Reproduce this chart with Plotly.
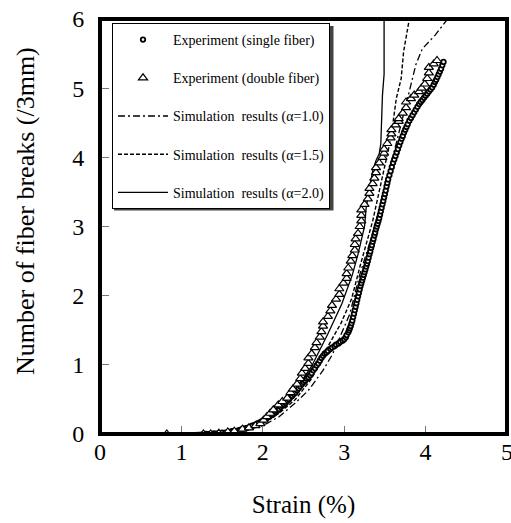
import plotly.graph_objects as go

# ---------------- data ----------------
single_fiber = [
    (1.30, 0.00), (1.35, 0.00), (1.40, 0.01), (1.45, 0.01), (1.50, 0.02), (1.54, 0.02),
    (1.58, 0.03), (1.62, 0.04), (1.65, 0.04), (1.69, 0.05), (1.72, 0.06), (1.75, 0.07),
    (1.78, 0.08), (1.81, 0.09), (1.84, 0.10), (1.87, 0.12), (1.90, 0.13), (1.93, 0.15),
    (1.95, 0.16), (1.98, 0.18), (2.00, 0.19), (2.02, 0.21), (2.04, 0.22), (2.06, 0.24),
    (2.08, 0.25), (2.10, 0.27), (2.12, 0.28), (2.14, 0.30), (2.16, 0.32), (2.18, 0.34),
    (2.20, 0.36), (2.22, 0.39), (2.24, 0.41), (2.26, 0.43), (2.28, 0.45), (2.30, 0.48),
    (2.32, 0.50), (2.34, 0.53), (2.36, 0.55), (2.38, 0.58), (2.40, 0.60), (2.42, 0.63),
    (2.44, 0.66), (2.46, 0.69), (2.48, 0.72), (2.50, 0.75), (2.52, 0.77), (2.54, 0.80),
    (2.56, 0.82), (2.58, 0.85), (2.60, 0.88), (2.62, 0.92), (2.64, 0.95), (2.66, 0.99),
    (2.68, 1.02), (2.70, 1.06), (2.72, 1.10), (2.74, 1.13), (2.76, 1.16), (2.78, 1.18),
    (2.80, 1.20), (2.83, 1.23), (2.85, 1.25), (2.88, 1.27), (2.90, 1.29), (2.93, 1.31),
    (2.95, 1.33), (2.98, 1.35), (3.00, 1.37), (3.02, 1.40), (3.03, 1.43), (3.05, 1.47),
    (3.06, 1.50), (3.07, 1.53), (3.08, 1.56), (3.09, 1.60), (3.10, 1.64), (3.11, 1.69),
    (3.12, 1.74), (3.13, 1.79), (3.14, 1.84), (3.15, 1.89), (3.16, 1.94), (3.17, 1.99),
    (3.18, 2.04), (3.19, 2.09), (3.20, 2.14), (3.21, 2.18), (3.22, 2.22), (3.23, 2.26),
    (3.24, 2.30), (3.25, 2.34), (3.26, 2.38), (3.27, 2.42), (3.28, 2.46), (3.29, 2.50),
    (3.30, 2.55), (3.31, 2.60), (3.32, 2.64), (3.33, 2.69), (3.34, 2.73), (3.35, 2.78),
    (3.36, 2.82), (3.37, 2.87), (3.38, 2.91), (3.39, 2.96), (3.40, 3.00), (3.41, 3.04),
    (3.42, 3.08), (3.43, 3.12), (3.44, 3.17), (3.45, 3.22), (3.46, 3.27), (3.47, 3.32),
    (3.48, 3.37), (3.49, 3.42), (3.50, 3.47), (3.51, 3.52), (3.52, 3.58), (3.53, 3.63),
    (3.54, 3.68), (3.555, 3.74), (3.57, 3.80), (3.585, 3.86), (3.60, 3.92), (3.615, 3.97),
    (3.63, 4.02), (3.645, 4.07), (3.66, 4.12), (3.675, 4.17), (3.69, 4.22), (3.705, 4.27),
    (3.72, 4.31), (3.735, 4.36), (3.75, 4.40), (3.765, 4.44), (3.78, 4.48), (3.80, 4.53),
    (3.82, 4.57), (3.84, 4.61), (3.86, 4.65), (3.88, 4.69), (3.90, 4.73), (3.92, 4.77),
    (3.94, 4.80), (3.96, 4.83), (3.98, 4.86), (4.00, 4.89), (4.02, 4.92), (4.04, 4.95),
    (4.06, 4.98), (4.08, 5.01), (4.10, 5.05), (4.115, 5.09), (4.13, 5.12), (4.145, 5.16),
    (4.16, 5.20), (4.175, 5.24), (4.19, 5.28), (4.205, 5.33), (4.22, 5.38),
]

double_fiber = [
    (0.82, 0.00), (1.27, 0.00), (1.36, 0.00), (1.46, 0.01), (1.57, 0.03), (1.65, 0.04),
    (1.75, 0.07), (1.83, 0.09), (1.91, 0.12), (1.97, 0.15), (2.01, 0.20), (2.05, 0.25),
    (2.09, 0.30), (2.13, 0.35), (2.19, 0.42), (2.24, 0.47), (2.30, 0.52), (2.34, 0.60),
    (2.37, 0.65), (2.42, 0.72), (2.46, 0.80), (2.48, 0.88), (2.52, 0.95), (2.56, 1.02),
    (2.56, 1.10), (2.60, 1.16), (2.64, 1.25), (2.66, 1.32), (2.70, 1.40), (2.72, 1.48),
    (2.74, 1.56), (2.74, 1.62), (2.80, 1.70), (2.83, 1.78), (2.85, 1.86), (2.90, 1.95),
    (2.94, 2.02), (2.94, 2.10), (2.99, 2.18), (3.03, 2.25), (3.03, 2.32), (3.05, 2.40),
    (3.08, 2.50), (3.10, 2.58), (3.13, 2.66), (3.13, 2.74), (3.14, 2.82), (3.17, 2.90),
    (3.19, 3.00), (3.21, 3.08), (3.21, 3.16), (3.21, 3.24), (3.25, 3.32), (3.29, 3.40),
    (3.31, 3.48), (3.31, 3.55), (3.35, 3.62), (3.37, 3.70), (3.39, 3.78), (3.39, 3.85),
    (3.43, 3.92), (3.47, 4.00), (3.49, 4.06), (3.49, 4.12), (3.53, 4.20), (3.57, 4.28),
    (3.58, 4.34), (3.58, 4.40), (3.63, 4.47), (3.67, 4.52), (3.67, 4.56), (3.72, 4.64),
    (3.76, 4.72), (3.76, 4.80), (3.82, 4.85), (3.86, 4.90), (3.92, 4.95), (3.95, 5.00),
    (3.99, 5.06), (4.02, 5.14), (4.04, 5.22), (4.04, 5.30), (4.10, 5.35), (4.14, 5.40),
]

sim_a10_x = [0.2, 1.0, 1.5, 1.8, 2.0, 2.2, 2.4, 2.56, 2.74, 2.86, 3.07, 3.19, 3.35, 3.5,
             3.62, 3.7, 3.76, 3.82, 3.88, 3.96, 4.12, 4.27]
sim_a10_y = [0.0, 0.01, 0.02, 0.06, 0.12, 0.25, 0.45, 0.63, 0.92, 1.16, 1.74, 2.3, 2.9, 3.55,
             4.1, 4.5, 4.76, 5.05, 5.34, 5.57, 5.77, 6.0]

sim_a15_x = [0.2, 1.0, 1.5, 1.8, 2.0, 2.2, 2.4, 2.6, 2.72, 2.82, 2.96, 3.09, 3.2, 3.35, 3.45,
             3.55, 3.59, 3.64, 3.70, 3.73, 3.80]
sim_a15_y = [0.0, 0.01, 0.03, 0.08, 0.16, 0.3, 0.5, 0.8, 1.1, 1.3, 1.6, 1.95, 2.45, 3.08, 3.6,
             4.15, 4.42, 4.85, 5.14, 5.53, 6.0]

sim_a20_x = [0.2, 1.0, 1.5, 1.8, 2.0, 2.2, 2.4, 2.6, 2.8, 2.97, 3.1, 3.17, 3.25, 3.27, 3.31,
             3.35, 3.39, 3.43, 3.45, 3.47, 3.49, 3.49]
sim_a20_y = [0.0, 0.01, 0.04, 0.1, 0.2, 0.38, 0.63, 0.98, 1.45, 1.88, 2.3, 2.6, 3.0, 3.27, 3.55,
             3.8, 3.95, 4.05, 4.2, 4.9, 5.2, 6.0]

x_ticks = [0, 1, 2, 3, 4, 5]
y_ticks = [0, 1, 2, 3, 4, 5, 6]

names = ["Experiment (single fiber)", "Experiment (double fiber)",
         "Simulation  results (\u03b1=1.0)", "Simulation  results (\u03b1=1.5)",
         "Simulation  results (\u03b1=2.0)"]

# ---------------- figure ----------------
W, H = 511, 523
ML, MR, MT, MB = 100, 4, 19, 89
FONT = "Liberation Serif"

fig = go.Figure()

fig.add_trace(go.Scatter(x=sim_a10_x, y=sim_a10_y, mode="lines", name=names[2],
                         line=dict(color="black", width=1.3, dash="7px,3px,2px,3px"),
                         legendgroup="c", legendrank=3))
fig.add_trace(go.Scatter(x=sim_a15_x, y=sim_a15_y, mode="lines", name=names[3],
                         line=dict(color="black", width=1.4, dash="4px,2px"),
                         legendgroup="d", legendrank=4))
fig.add_trace(go.Scatter(x=sim_a20_x, y=sim_a20_y, mode="lines", name=names[4],
                         line=dict(color="black", width=1.3),
                         legendgroup="e", legendrank=5))

fig.add_trace(go.Scatter(x=[p[0] for p in single_fiber], y=[p[1] for p in single_fiber],
                         mode="markers", name=names[0],
                         marker=dict(symbol="circle", size=4.5, color="white",
                                     line=dict(color="black", width=1.8)),
                         legendgroup="a", legendrank=1))
fig.add_trace(go.Scatter(x=[p[0] for p in double_fiber], y=[p[1] for p in double_fiber],
                         mode="markers", name=names[1],
                         marker=dict(symbol="triangle-up", size=8, color="white",
                                     line=dict(color="black", width=1.2)),
                         legendgroup="b", legendrank=2))

pw = W - ML - MR
ph = H - MT - MB

def px2paper_x(px):
    return (px - ML) / pw

def py2paper_y(py):
    return (H - MB - py) / ph

# plot frame (thick border around the plotting area)
fig.add_shape(type="rect", xref="paper", yref="paper", x0=0, x1=1, y0=0, y1=1,
              line=dict(color="black", width=4), fillcolor="rgba(0,0,0,0)", layer="above")

# legend shadow
fig.add_shape(type="rect", xref="paper", yref="paper",
              x0=px2paper_x(114), x1=px2paper_x(333.5), y0=py2paper_y(210.5), y1=py2paper_y(26),
              fillcolor="#444", line=dict(width=0), layer="above")

fig.update_layout(
    width=W, height=H, autosize=False,
    margin=dict(l=ML, r=MR, t=MT, b=MB, autoexpand=False),
    paper_bgcolor="white", plot_bgcolor="white",
    font=dict(family=FONT, color="black", size=24),
    showlegend=True,
    legend=dict(x=px2paper_x(112), y=py2paper_y(23), xanchor="left", yanchor="top",
                bgcolor="white", bordercolor="black", borderwidth=1,
                font=dict(family=FONT, size=14, color="black"),
                traceorder="grouped", tracegroupgap=17, itemwidth=50),
    xaxis=dict(range=[0, 5], tickvals=x_ticks, ticks="inside", ticklen=8, tickwidth=1,
               tickcolor="#777", showline=True, linecolor="black", linewidth=2, mirror=True,
               showgrid=False, zeroline=False, automargin=False, ticklabeloverflow="allow",
               tickfont=dict(family=FONT, size=24, color="black"),
               ticklabelstandoff=-5,
               title=dict(text="Strain (%)", font=dict(family=FONT, size=25, color="black"),
                          standoff=32)),
    yaxis=dict(range=[0, 6], tickvals=y_ticks, ticks="inside", ticklen=9, tickwidth=1,
               tickcolor="#777", showline=True, linecolor="black", linewidth=2, mirror=True,
               showgrid=False, zeroline=False, automargin=False, ticklabeloverflow="allow",
               tickfont=dict(family=FONT, size=24, color="black"),
               ticklabelstandoff=9),
)

fig.add_annotation(text="Number of fiber breaks (/3mm)", xref="paper", yref="paper",
                   x=px2paper_x(26), y=py2paper_y(211), textangle=-90, showarrow=False,
                   font=dict(family=FONT, size=26, color="black"),
                   xanchor="center", yanchor="middle")

fig.write_html("out.html", config={"displayModeBar": False, "responsive": False},
               post_script=("document.body.style.margin='0';"
                            "document.body.style.overflow='hidden';"
                            "document.documentElement.style.overflow='hidden';"))
